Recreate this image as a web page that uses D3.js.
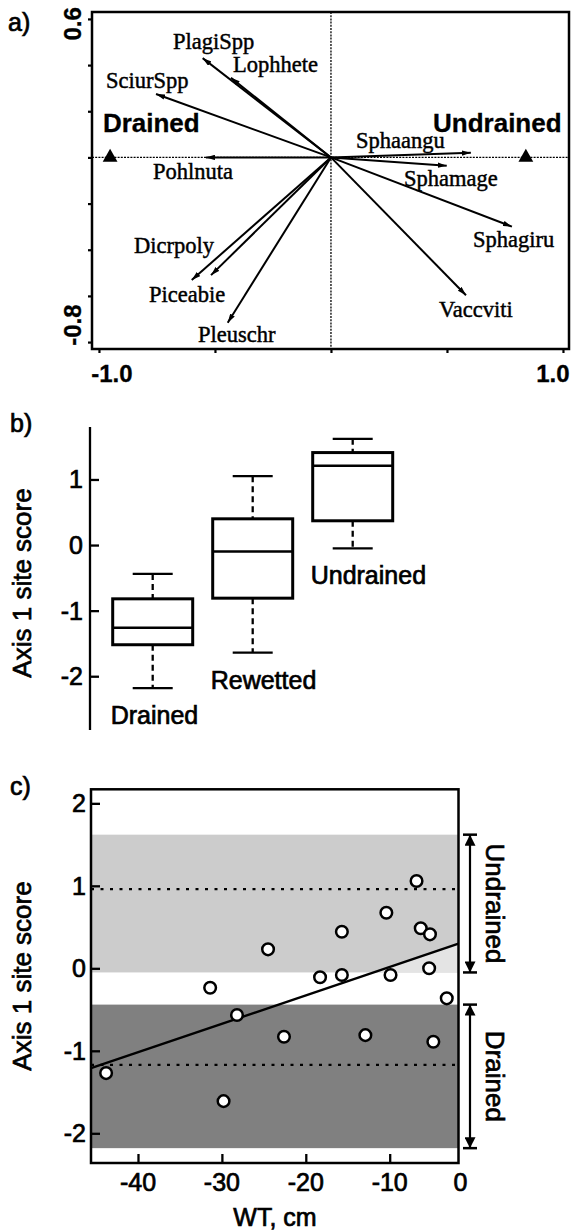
<!DOCTYPE html>
<html><head><meta charset="utf-8">
<script src="https://cdn.jsdelivr.net/npm/d3@7"></script>
<style>
html,body{margin:0;padding:0;background:#fff;}
svg{display:block;}
.sans{font-family:"Liberation Sans",Arial,sans-serif;stroke:#000;stroke-width:0.7px;}
.bold{stroke-width:0.3px;}
.serif{font-family:"Liberation Serif","Times New Roman",serif;stroke:#000;stroke-width:0.45px;}
</style></head>
<body>
<svg id="chart" width="576" height="1230"></svg>
<script>
// ---------- Panel a: biplot ----------
const species = ["PlagiSpp","Lophhete","SciurSpp","Pohlnuta","Sphaangu","Sphamage","Sphagiru","Vaccviti","Dicrpoly","Piceabie","Pleuschr"];
const speciesX = [-0.553,-0.431,-0.754,-0.539,0.603,0.499,0.780,0.582,-0.600,-0.517,-0.445];
const speciesY = [0.430,0.345,0.275,0.000,0.020,-0.036,-0.300,-0.597,-0.531,-0.510,-0.716];
const speciesLabelX = [-0.681,-0.422,-0.970,-0.767,0.108,0.315,0.612,0.466,-0.849,-0.784,-0.573];
const speciesLabelY = [0.470,0.370,0.301,-0.094,0.041,-0.124,-0.388,-0.692,-0.414,-0.627,-0.800];
const groupNames = ["Drained","Undrained"];
const groupX = [-0.952,0.840];
const groupY = [0,0];
const groupLabelX = [-0.983,0.440];
const groupLabelY = [0.110,0.110];
const aXTicks = [-1,-0.5,0,0.5,1];
const aYTicks = [0.6,0.4,0.2,0,-0.2,-0.4,-0.6,-0.8];

// ---------- Panel b: boxplots ----------
const boxCats = ["Drained","Rewetted","Undrained"];
const boxLow  = [-2.18,-1.64,-0.05];
const boxQ1   = [-1.52,-0.81,0.37];
const boxMed  = [-1.26,-0.10,1.21];
const boxQ3   = [-0.82,0.40,1.41];
const boxHigh = [-0.44,1.05,1.62];
const bYTicks = [1,0,-1,-2];

// ---------- Panel c: scatter ----------
const wtX    = [-43.8,-31.4,-29.8,-28.2,-24.5,-22.6,-18.3,-15.7,-15.7,-12.9,-10.4,-9.9,-6.8,-6.3,-5.2,-5.3,-4.8,-3.2];
const scoreY = [-1.27,-0.235,-1.61,-0.566,0.23,-0.83,-0.109,0.444,-0.081,-0.81,0.674,-0.081,1.058,0.485,0.412,0.0,-0.89,-0.364];
const regSlope = 0.0345, regIntercept = 0.362;
const meanUndrained = 0.96, meanDrained = -1.17;
const cXTicks = [-40,-30,-20,-10];
const cYTicks = [2,1,0,-1,-2];

const svg = d3.select("#chart");
const defs = svg.append("defs");
defs.append("marker").attr("id","arrowA").attr("viewBox","0 0 10 6")
  .attr("refX",10).attr("refY",3).attr("markerWidth",9).attr("markerHeight",5.5)
  .attr("markerUnits","userSpaceOnUse").attr("orient","auto")
  .append("path").attr("d","M0,0L10,3L0,6z").attr("fill","#000");
defs.append("marker").attr("id","arrowC").attr("viewBox","0 0 10 10")
  .attr("refX",10).attr("refY",5).attr("markerWidth",11).attr("markerHeight",11)
  .attr("markerUnits","userSpaceOnUse").attr("orient","auto-start-reverse")
  .append("path").attr("d","M0,0L10,5L0,10z").attr("fill","#000");

// ===== Panel a =====
const xA = d3.scaleLinear().domain([-1.03,1.026]).range([92,569]);
const yA = d3.scaleLinear().domain([0.63,-0.83]).range([12,349]);
const gA = svg.append("g");
gA.append("text").attr("class","sans").attr("x",8).attr("y",31).attr("font-size",25).text("a)");
// cross lines
gA.append("line").attr("x1",xA.range()[0]).attr("x2",xA.range()[1]).attr("y1",yA(0)).attr("y2",yA(0))
  .attr("stroke","#000").attr("stroke-width",1.3).attr("stroke-dasharray","2,1.2");
gA.append("line").attr("y1",yA.range()[0]).attr("y2",yA.range()[1]).attr("x1",xA(0)).attr("x2",xA(0))
  .attr("stroke","#000").attr("stroke-width",1.3).attr("stroke-dasharray","2,1.2");
// arrows
species.forEach((s,i)=>{
  gA.append("line").attr("x1",xA(0)).attr("y1",yA(0)).attr("x2",xA(speciesX[i])).attr("y2",yA(speciesY[i]))
    .attr("stroke","#000").attr("stroke-width",2).attr("marker-end","url(#arrowA)");
  gA.append("text").attr("class","serif").attr("x",xA(speciesLabelX[i])).attr("y",yA(speciesLabelY[i]))
    .attr("font-size",22.5).text(s);
});
groupNames.forEach((g,i)=>{
  gA.append("path").attr("d",d3.symbol(d3.symbolTriangle,95)())
    .attr("transform",`translate(${xA(groupX[i])},${yA(groupY[i])})`).attr("fill","#000");
  gA.append("text").attr("class","sans bold").attr("x",xA(groupLabelX[i])).attr("y",yA(groupLabelY[i]))
    .attr("font-size",26).attr("font-weight","bold").text(g);
});
// frame
gA.append("rect").attr("x",92).attr("y",12).attr("width",569-92).attr("height",349-12)
  .attr("fill","none").attr("stroke","#000").attr("stroke-width",2.5);
// axes ticks
gA.append("g").attr("transform",`translate(0,${yA.range()[1]})`)
  .call(d3.axisBottom(xA).tickValues(aXTicks).tickSize(4).tickFormat(""))
  .call(g=>{g.select(".domain").remove();g.selectAll("line").attr("stroke-width",2.2);});
gA.append("g").attr("transform",`translate(${xA.range()[0]},0)`)
  .call(d3.axisLeft(yA).tickValues(aYTicks).tickSize(4).tickFormat(""))
  .call(g=>{g.select(".domain").remove();g.selectAll("line").attr("stroke-width",2.2);});
// tick labels
gA.append("text").attr("class","sans bold").attr("font-weight","bold").attr("font-size",24)
  .attr("text-anchor","middle").attr("x",xA(-1)+13).attr("y",yA.range()[1]+33).text("-1.0");
gA.append("text").attr("class","sans bold").attr("font-weight","bold").attr("font-size",24)
  .attr("text-anchor","middle").attr("x",xA(1)-10).attr("y",yA.range()[1]+33).text("1.0");
gA.append("text").attr("class","sans bold").attr("font-weight","bold").attr("font-size",24)
  .attr("text-anchor","middle").attr("transform",`translate(81,${yA(0.6)+5}) rotate(-90)`).text("0.6");
gA.append("text").attr("class","sans bold").attr("font-weight","bold").attr("font-size",24)
  .attr("text-anchor","middle").attr("transform",`translate(81,${yA(-0.8)-17}) rotate(-90)`).text("-0.8");

// ===== Panel b =====
const xB = d3.scaleBand().domain(boxCats).range([102.7,402.7]).paddingInner(0.2).paddingOuter(0.1);
const yB = d3.scaleLinear().domain([1.80,-2.82]).range([427,730]);
const gB = svg.append("g");
gB.append("text").attr("class","sans").attr("x",10).attr("y",432).attr("font-size",25).text("b)");
gB.append("line").attr("x1",90).attr("x2",90).attr("y1",yB.range()[0]).attr("y2",yB.range()[1])
  .attr("stroke","#000").attr("stroke-width",2.3);
gB.append("g").attr("transform","translate(90,0)")
  .call(d3.axisRight(yB).tickValues(bYTicks).tickSize(9).tickFormat(""))
  .call(g=>{g.select(".domain").remove();g.selectAll("line").attr("stroke-width",2.3);});
bYTicks.forEach(t=>{
  gB.append("text").attr("class","sans").attr("font-size",25).attr("text-anchor","end")
    .attr("x",83).attr("y",yB(t)).attr("dy","0.36em").text(t);
});
gB.append("text").attr("class","sans").attr("font-size",26).attr("text-anchor","middle")
  .attr("transform",`translate(31,583) rotate(-90)`).text("Axis 1 site score");
boxCats.forEach((c,i)=>{
  const x0 = xB(c), bw = xB.bandwidth(), cx = x0 + bw/2;
  gB.append("line").attr("x1",cx).attr("x2",cx).attr("y1",yB(boxHigh[i])).attr("y2",yB(boxQ3[i]))
    .attr("stroke","#000").attr("stroke-width",2.3).attr("stroke-dasharray","6,4");
  gB.append("line").attr("x1",cx).attr("x2",cx).attr("y1",yB(boxQ1[i])).attr("y2",yB(boxLow[i]))
    .attr("stroke","#000").attr("stroke-width",2.3).attr("stroke-dasharray","6,4");
  [boxHigh[i],boxLow[i]].forEach(v=>{
    gB.append("line").attr("x1",cx-bw/4).attr("x2",cx+bw/4).attr("y1",yB(v)).attr("y2",yB(v))
      .attr("stroke","#000").attr("stroke-width",2.3);
  });
  gB.append("rect").attr("x",x0).attr("width",bw).attr("y",yB(boxQ3[i])).attr("height",yB(boxQ1[i])-yB(boxQ3[i]))
    .attr("fill","#fff").attr("stroke","#000").attr("stroke-width",3);
  gB.append("line").attr("x1",x0).attr("x2",x0+bw).attr("y1",yB(boxMed[i])).attr("y2",yB(boxMed[i]))
    .attr("stroke","#000").attr("stroke-width",2.5);
  gB.append("text").attr("class","sans").attr("font-size",25).attr("x",x0-2).attr("y",yB(boxLow[i])+36).text(c);
});

// ===== Panel c =====
const xC = d3.scaleLinear().domain([-45.6,-1.8]).range([91,458.5]);
const yC = d3.scaleLinear().domain([2.17,-2.36]).range([789.3,1163]);
const gC = svg.append("g");
gC.append("text").attr("class","sans").attr("x",10).attr("y",795).attr("font-size",25).text("c)");
const [cx0,cx1] = xC.range();
gC.append("rect").attr("x",cx0).attr("width",cx1-cx0).attr("y",yC(boxHigh[2])).attr("height",yC(boxLow[2])-yC(boxHigh[2]))
  .attr("fill","#cccccc");
gC.append("rect").attr("x",cx0).attr("width",cx1-cx0).attr("y",yC(boxHigh[0])).attr("height",yC(boxLow[0])-yC(boxHigh[0]))
  .attr("fill","#808080");
const xd = xC.domain();
const xCross = (boxLow[2]-regIntercept)/regSlope;
const poly = [[xCross,boxLow[2]],[xd[1],regIntercept+regSlope*xd[1]],[xd[1],boxLow[2]]];
gC.append("path").attr("d",d3.line().x(d=>xC(d[0])).y(d=>yC(d[1]))(poly)+"Z").attr("fill","#e4e4e4");
[meanUndrained,meanDrained].forEach(m=>{
  gC.append("line").attr("x1",cx0).attr("x2",cx1).attr("y1",yC(m)).attr("y2",yC(m))
    .attr("stroke","#000").attr("stroke-width",2.2).attr("stroke-dasharray","3,6.5");
});
gC.append("line").attr("x1",xC(xd[0])).attr("y1",yC(regIntercept+regSlope*xd[0]))
  .attr("x2",xC(xd[1])).attr("y2",yC(regIntercept+regSlope*xd[1]))
  .attr("stroke","#000").attr("stroke-width",2.4);
wtX.forEach((x,i)=>{
  gC.append("circle").attr("cx",xC(x)).attr("cy",yC(scoreY[i])).attr("r",5.8)
    .attr("fill","#fff").attr("stroke","#000").attr("stroke-width",2.5);
});
gC.append("rect").attr("x",cx0).attr("y",yC.range()[0]).attr("width",cx1-cx0).attr("height",yC.range()[1]-yC.range()[0])
  .attr("fill","none").attr("stroke","#000").attr("stroke-width",2.5);
gC.append("g").attr("transform",`translate(0,${yC.range()[1]})`)
  .call(d3.axisTop(xC).tickValues(cXTicks).tickSize(9).tickFormat(""))
  .call(g=>{g.select(".domain").remove();g.selectAll("line").attr("stroke-width",2.3);});
gC.append("g").attr("transform",`translate(${cx0},0)`)
  .call(d3.axisRight(yC).tickValues(cYTicks).tickSize(9).tickFormat(""))
  .call(g=>{g.select(".domain").remove();g.selectAll("line").attr("stroke-width",2.3);});
cXTicks.forEach(t=>{
  gC.append("text").attr("class","sans").attr("font-size",25).attr("text-anchor","middle")
    .attr("x",xC(t)).attr("y",1191).text(t);
});
gC.append("text").attr("class","sans").attr("font-size",25).attr("text-anchor","middle")
  .attr("x",cx1+2).attr("y",1191).text("0");
cYTicks.forEach(t=>{
  gC.append("text").attr("class","sans").attr("font-size",25).attr("text-anchor","end")
    .attr("x",86).attr("y",yC(t)).attr("dy","0.36em").text(t);
});
gC.append("text").attr("class","sans").attr("font-size",25).attr("text-anchor","middle")
  .attr("x",275).attr("y",1226).text("WT, cm");
gC.append("text").attr("class","sans").attr("font-size",26).attr("text-anchor","middle")
  .attr("transform",`translate(31,976) rotate(-90)`).text("Axis 1 site score");
const ax = cx1 + 11.5;
[[boxHigh[2],boxLow[2],"Undrained"],[boxHigh[0],boxLow[0],"Drained"]].forEach(([hi,lo,lab])=>{
  gC.append("line").attr("x1",ax).attr("x2",ax).attr("y1",yC(hi)).attr("y2",yC(lo))
    .attr("stroke","#000").attr("stroke-width",2.2)
    .attr("marker-start","url(#arrowC)").attr("marker-end","url(#arrowC)");
  [hi,lo].forEach(v=>{
    gC.append("line").attr("x1",ax-7).attr("x2",ax+7).attr("y1",yC(v)).attr("y2",yC(v))
      .attr("stroke","#000").attr("stroke-width",2.5);
  });
  gC.append("text").attr("class","sans").attr("font-size",26).attr("text-anchor","middle")
    .attr("transform",`translate(${ax+10},${(yC(hi)+yC(lo))/2}) rotate(90)`)
    .attr("dominant-baseline","text-after-edge").text(lab);
});
</script>
</body></html>
